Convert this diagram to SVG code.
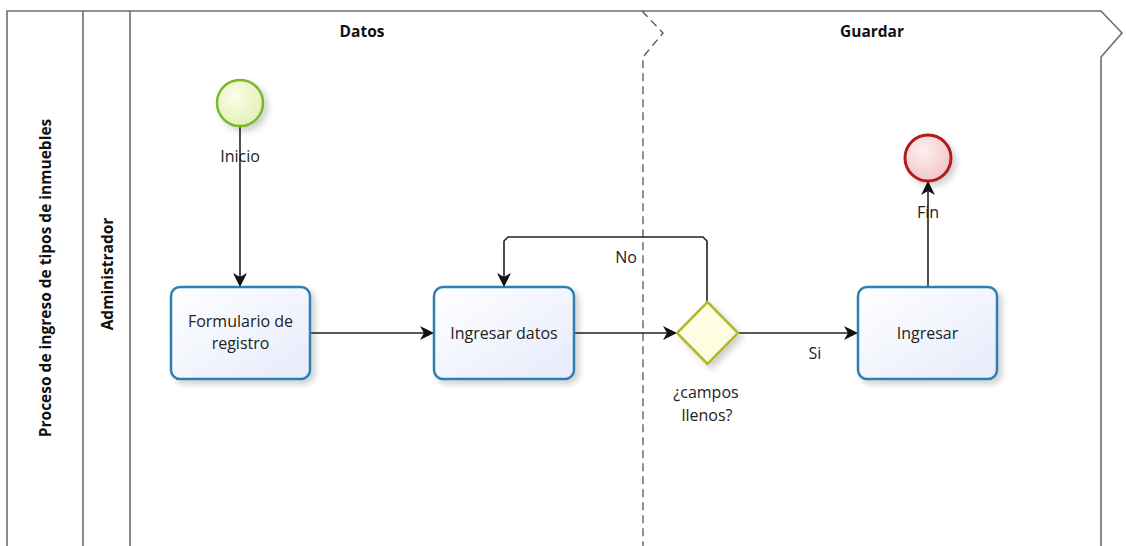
<svg xmlns="http://www.w3.org/2000/svg" width="1126" height="546" viewBox="0 0 1126 546">
<defs>
<linearGradient id="taskFill" x1="0" y1="0" x2="1" y2="1">
<stop offset="0" stop-color="#ffffff"/><stop offset="1" stop-color="#e6ebfb"/>
</linearGradient>
<radialGradient id="startFill" cx="0.4" cy="0.35" r="0.7">
<stop offset="0" stop-color="#fbfde8"/><stop offset="1" stop-color="#e2f0b4"/>
</radialGradient>
<radialGradient id="endFill" cx="0.4" cy="0.35" r="0.7">
<stop offset="0" stop-color="#fdf0f0"/><stop offset="1" stop-color="#f0c4c4"/>
</radialGradient>
<linearGradient id="gwFill" x1="0" y1="0" x2="1" y2="1">
<stop offset="0" stop-color="#ffffee"/><stop offset="1" stop-color="#fbfbd6"/>
</linearGradient>
<filter id="shadow" x="-20%" y="-20%" width="150%" height="150%">
<feDropShadow dx="4" dy="4" stdDeviation="3" flood-color="#000" flood-opacity="0.18"/>
</filter>
<marker id="arrow" viewBox="0 0 14 14" refX="13" refY="7" markerWidth="14" markerHeight="14" markerUnits="userSpaceOnUse" orient="auto">
<path d="M0,0 L14,7 L0,14 L4,7 Z" fill="#111"/>
</marker>
</defs>
<style>
.frame{fill:none;stroke:#6e6e6e;stroke-width:1.6}
.sep{fill:none;stroke:#555;stroke-width:1.3;stroke-dasharray:8,5}
.hdr{font-family:"Open Sans","Noto Sans",sans-serif;font-size:15.5px;font-weight:bold;fill:#111;text-anchor:middle}
.vt{font-family:"Open Sans","Noto Sans",sans-serif;font-size:15.5px;font-weight:bold;fill:#111;text-anchor:middle}
.task{fill:url(#taskFill);stroke:#2d7fb0;stroke-width:2.5}
.lbl{font-family:"Open Sans","Noto Sans",sans-serif;font-size:16px;fill:#222;text-anchor:middle}
.conn{fill:none;stroke:#222;stroke-width:1.6}
</style>
<rect width="1126" height="546" fill="#ffffff"/>
<g id="pool">
<path class="frame" d="M7,546 V11 H1101 L1122,33 L1101,57 V546"/>
<line class="frame" x1="83" y1="11" x2="83" y2="546"/>
<line class="frame" x1="130" y1="11" x2="130" y2="546"/>
<path class="sep" d="M642,11 L663,33 L643,57 V546"/>
<text class="vt" transform="translate(51,278) rotate(-90)">Proceso de ingreso de tipos de inmuebles</text>
<text class="vt" transform="translate(113,274) rotate(-90)">Administrador</text>
<text class="hdr" x="362" y="37">Datos</text>
<text class="hdr" x="872" y="37">Guardar</text>
</g>
<g id="connectors">
<line class="conn" x1="240" y1="127" x2="240" y2="286" marker-end="url(#arrow)"/>
<line class="conn" x1="310" y1="333" x2="433" y2="333" marker-end="url(#arrow)"/>
<line class="conn" x1="574" y1="333" x2="676" y2="333" marker-end="url(#arrow)"/>
<line class="conn" x1="738" y1="333" x2="857" y2="333" marker-end="url(#arrow)"/>
<text class="lbl" x="815" y="359">Si</text>
<path class="conn" d="M707,302 V241 L703,237 H508 L504,241 V286" marker-end="url(#arrow)"/>
<text class="lbl" x="626" y="263">No</text>
<line class="conn" x1="928" y1="287" x2="928" y2="182" marker-end="url(#arrow)"/>
</g>
<g id="start">
<circle cx="240" cy="103" r="23" fill="url(#startFill)" stroke="#78b829" stroke-width="2.5" filter="url(#shadow)"/>
<text class="lbl" x="240" y="162">Inicio</text>
</g>
<g id="formulario">
<rect class="task" x="171" y="287" width="139" height="92" rx="9" filter="url(#shadow)"/>
<text class="lbl" x="240.5" y="327">Formulario de</text>
<text class="lbl" x="240.5" y="349">registro</text>
</g>
<g id="ingresar-datos">
<rect class="task" x="434" y="287" width="140" height="92" rx="9" filter="url(#shadow)"/>
<text class="lbl" x="504" y="339">Ingresar datos</text>
</g>
<g id="gateway">
<path d="M707.5,302 L738,333 L707.5,364 L677,333 Z" fill="url(#gwFill)" stroke="#b6b62a" stroke-width="2.5" filter="url(#shadow)"/>
<text class="lbl" x="706" y="398">¿campos</text>
<text class="lbl" x="707" y="421">llenos?</text>
</g>
<g id="ingresar">
<rect class="task" x="858" y="287" width="139" height="92" rx="9" filter="url(#shadow)"/>
<text class="lbl" x="927.5" y="339">Ingresar</text>
</g>
<g id="end">
<circle cx="928" cy="158" r="23" fill="url(#endFill)" stroke="#b01e1e" stroke-width="3" filter="url(#shadow)"/>
<text class="lbl" x="928" y="218">Fin</text>
</g>
</svg>
